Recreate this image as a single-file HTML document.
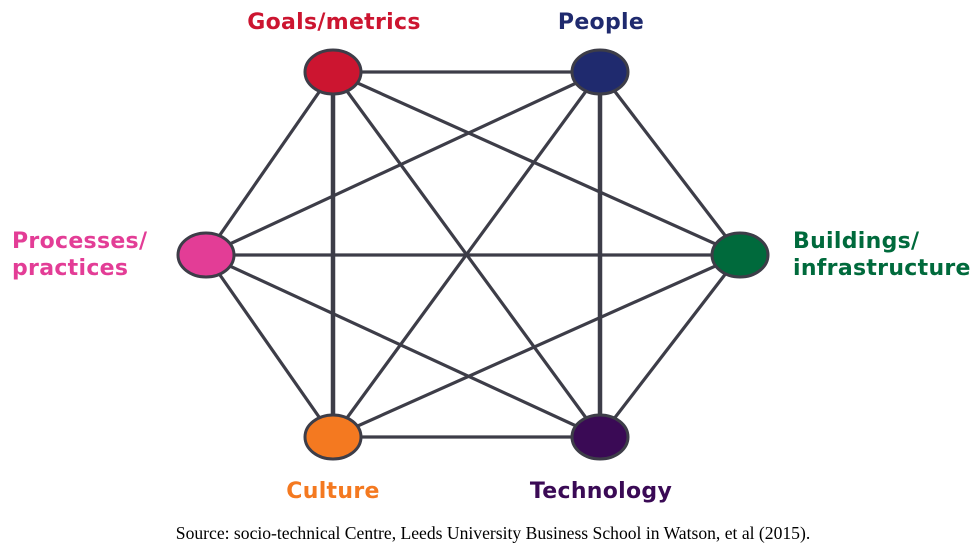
<!DOCTYPE html>
<html><head><meta charset="utf-8"><style>
html,body{margin:0;padding:0;background:#fff;}
svg{display:block;}
</style></head><body>
<svg width="980" height="548" viewBox="0 0 980 548" xmlns="http://www.w3.org/2000/svg">
<g stroke="#3d3d48" stroke-width="3.2" fill="none">
<line x1="333" y1="72" x2="600" y2="72"/>
<line x1="333" y1="72" x2="740" y2="255"/>
<line x1="333" y1="72" x2="600" y2="437"/>
<line x1="333" y1="72" x2="333" y2="437" stroke-width="4.5"/>
<line x1="333" y1="72" x2="206" y2="255"/>
<line x1="600" y1="72" x2="740" y2="255"/>
<line x1="600" y1="72" x2="600" y2="437" stroke-width="4.5"/>
<line x1="600" y1="72" x2="333" y2="437"/>
<line x1="600" y1="72" x2="206" y2="255"/>
<line x1="740" y1="255" x2="600" y2="437"/>
<line x1="740" y1="255" x2="333" y2="437"/>
<line x1="740" y1="255" x2="206" y2="255"/>
<line x1="600" y1="437" x2="333" y2="437"/>
<line x1="600" y1="437" x2="206" y2="255"/>
<line x1="333" y1="437" x2="206" y2="255"/>
</g>
<g stroke="#3d3d48" stroke-width="3">
<ellipse cx="333" cy="72" rx="28" ry="22" fill="#cc1530"/>
<ellipse cx="600" cy="72" rx="28" ry="22" fill="#1f2a6e"/>
<ellipse cx="740" cy="255" rx="28" ry="22" fill="#006a3c"/>
<ellipse cx="600" cy="437" rx="28" ry="22" fill="#3a0a55"/>
<ellipse cx="333" cy="437" rx="28" ry="22" fill="#f47920"/>
<ellipse cx="206" cy="255" rx="28" ry="22" fill="#e33d96"/>
</g>
<g font-family="'DejaVu Sans','Liberation Sans',sans-serif" font-size="22" font-weight="bold" letter-spacing="0.3">
<text x="334" y="29" text-anchor="middle" fill="#cc1530">Goals/metrics</text>
<text x="601" y="29" text-anchor="middle" fill="#1f2a6e">People</text>
<text x="793" y="248" fill="#006a3c">Buildings/</text>
<text x="793" y="275" fill="#006a3c">infrastructure</text>
<text x="12" y="248" fill="#e33d96">Processes/</text>
<text x="12" y="275" fill="#e33d96">practices</text>
<text x="333" y="498" text-anchor="middle" fill="#f47920">Culture</text>
<text x="601" y="498" text-anchor="middle" fill="#3a0a55">Technology</text>
</g>
<text x="493" y="539" text-anchor="middle" font-family="'Liberation Serif',serif" font-size="17.6" fill="#000">Source: socio-technical Centre, Leeds University Business School in Watson, et al (2015).</text>
</svg>
</body></html>
